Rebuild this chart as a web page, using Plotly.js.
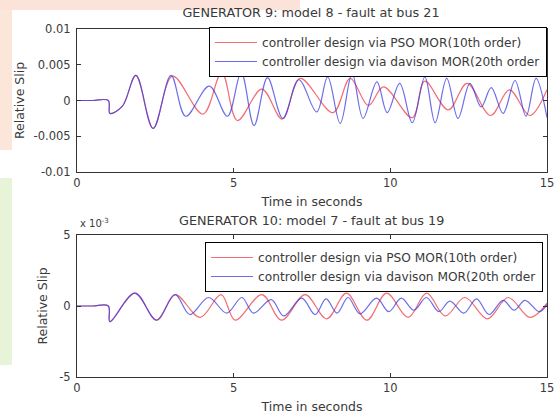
<!DOCTYPE html>
<html>
<head>
<meta charset="utf-8">
<script src="https://cdn.plot.ly/plotly-3.0.1.min.js"></script>
<style>html,body{margin:0;padding:0;background:#fff;}#chart{width:559px;height:414px;}</style>
</head>
<body>
<div id="chart"></div>
<script>
// ---- Data (time in s, relative slip) ----
// Generator 9 (top), extrema of each trace
var g9TimePSO = [0, 0.5, 1.0, 1.05, 1.45, 1.88, 2.43, 3.05, 4.02, 4.62, 5.12, 5.9, 6.55, 7.12, 8.17, 8.72, 9.3, 9.78, 10.7, 11.1, 11.85, 12.45, 13.2, 13.8, 14.45, 15.0];
var g9SlipPSO = [0, 0, 0, -0.0018, -0.0008, 0.0035, -0.0039, 0.0034, -0.0019, 0.0039, -0.0028, 0.0016, -0.0026, 0.0031, -0.0017, 0.0031, -0.0007, 0.0019, -0.0024, 0.0027, -0.0013, 0.0024, -0.0021, 0.0015, -0.0021, 0.0015];
var g9TimeDav = [0, 0.5, 1.0, 1.05, 1.45, 1.88, 2.43, 3.0, 3.47, 4.22, 4.8, 5.24, 5.65, 6.08, 6.57, 7.08, 7.65, 8.0, 8.4, 8.78, 9.13, 9.57, 9.9, 10.3, 10.7, 11.1, 11.43, 11.8, 12.16, 12.54, 12.9, 13.22, 13.6, 13.98, 14.33, 14.65, 15.0];
var g9SlipDav = [0, 0, 0, -0.0018, -0.0008, 0.0035, -0.0039, 0.0035, -0.0022, 0.0020, -0.0022, 0.0039, -0.0035, 0.0032, -0.0025, 0.0029, -0.0016, 0.0033, -0.0032, 0.0038, -0.0025, 0.0026, -0.0017, 0.0024, -0.0031, 0.0033, -0.0031, 0.0031, -0.0025, 0.0024, -0.0009, 0.0018, -0.0018, 0.0028, -0.0022, 0.0031, -0.0024];
// Generator 10 (bottom), slip in units of 1e-3
var g10TimePSO = [0, 0.5, 1.0, 1.05, 1.85, 2.54, 3.13, 3.93, 4.6, 5.05, 5.9, 6.53, 7.28, 7.97, 8.6, 9.25, 9.88, 10.57, 11.16, 11.75, 12.38, 13.1, 13.76, 14.46, 15.0];
var g10SlipPSO = [0, 0, 0, -1.1, 0.9, -1.0, 0.8, -0.8, 0.8, -1.0, 0.8, -1.0, 0.8, -0.9, 0.9, -1.0, 0.9, -0.8, 0.9, -0.7, 0.6, -0.9, 0.6, -0.8, 0.2];
var g10TimeDav = [0, 0.5, 1.0, 1.05, 1.85, 2.54, 3.13, 3.6, 4.2, 4.78, 5.26, 5.63, 6.2, 6.6, 7.17, 7.6, 7.95, 8.3, 8.65, 9.03, 9.56, 9.95, 10.35, 10.75, 11.15, 11.55, 11.9, 12.35, 12.75, 13.15, 13.6, 13.95, 14.3, 14.75, 15.0];
var g10SlipDav = [0, 0, 0, -1.1, 0.9, -1.0, 0.8, -0.6, 0.6, -0.5, 0.6, -0.5, 0.45, -0.7, 0.55, -0.6, 0.5, -0.5, 0.6, -0.55, 0.55, -0.4, 0.55, -0.3, 0.6, -0.4, 0.35, -0.5, 0.5, -0.6, 0.4, -0.3, 0.4, -0.4, 0.1];

var seriesNames = ['controller design via PSO MOR(10th order)', 'controller design via davison MOR(20th order'];
var xTicks = [0, 5, 10, 15];
var yTicksTop = [-0.01, -0.005, 0, 0.005, 0.01];
var yTickTextTop = ['-0.01', '-0.005', '0', '0.005', '0.01'];
var yTicksBot = [-5, 0, 5];
var yTickTextBot = ['-5', '0', '5'];

var RED = 'rgba(238,60,70,0.75)';
var BLUE = 'rgba(60,60,225,0.75)';

var traces = [
  {x: g9TimePSO, y: g9SlipPSO, name: seriesNames[0], xaxis: 'x', yaxis: 'y', legend: 'legend', mode: 'lines', line: {color: RED, width: 1.2, shape: 'spline', smoothing: 1}},
  {x: g9TimeDav, y: g9SlipDav, name: seriesNames[1], xaxis: 'x', yaxis: 'y', legend: 'legend', mode: 'lines', line: {color: BLUE, width: 1.2, shape: 'spline', smoothing: 1}},
  {x: g10TimePSO, y: g10SlipPSO, name: seriesNames[0], xaxis: 'x2', yaxis: 'y2', legend: 'legend2', mode: 'lines', line: {color: RED, width: 1.2, shape: 'spline', smoothing: 1}},
  {x: g10TimeDav, y: g10SlipDav, name: seriesNames[1], xaxis: 'x2', yaxis: 'y2', legend: 'legend2', mode: 'lines', line: {color: BLUE, width: 1.2, shape: 'spline', smoothing: 1}}
];

var FONT = 'DejaVu Sans, Arial, sans-serif';
var TXT = '#3a3a3a';
function xAx(anchor) {
  return {anchor: anchor, domain: [0, 1], range: [0, 15], tickvals: xTicks, ticktext: xTicks.map(String),
    ticks: 'inside', ticklen: 4, tickcolor: '#333', mirror: 'ticks', showline: true, linecolor: '#333', linewidth: 1,
    showgrid: false, zeroline: false, tickfont: {family: FONT, size: 11.5, color: TXT},
    title: {text: 'Time in seconds', font: {family: FONT, size: 12.5, color: TXT}, standoff: 8}};
}
function yAx(anchor, dom, vals, txt, rng, stand) {
  return {anchor: anchor, domain: dom, range: rng, tickvals: vals, ticktext: txt,
    ticks: 'inside', ticklen: 4, tickcolor: '#333', mirror: 'ticks', showline: true, linecolor: '#333', linewidth: 1,
    showgrid: false, zeroline: false, tickfont: {family: FONT, size: 11.5, color: TXT}, ticklabelstandoff: 3,
    title: {text: 'Relative Slip', font: {family: FONT, size: 12.5, color: TXT}, standoff: stand}};
}
function px2x(p) { return (p - 77) / 470; }
function px2y(p) { return (377 - p) / 348; }

var layout = {
  width: 559, height: 414,
  margin: {l: 77, r: 12, t: 29, b: 37},
  paper_bgcolor: '#ffffff', plot_bgcolor: '#ffffff',
  showlegend: true,
  font: {family: FONT, color: TXT},
  title: {text: 'GENERATOR 9: model 8 - fault at bus 21', font: {family: FONT, size: 12.8, color: TXT},
    x: 311 / 559, xanchor: 'center', y: 1 - 13 / 414, yanchor: 'middle', xref: 'container', yref: 'container'},
  xaxis: xAx('y'),
  yaxis: yAx('x', [px2y(172), 1], yTicksTop, yTickTextTop, [-0.01, 0.01], 6),
  xaxis2: xAx('y2'),
  yaxis2: yAx('x2', [0, px2y(235)], yTicksBot, yTickTextBot, [-5, 5], 8),
  legend: {x: 1, xanchor: 'right', y: px2y(27), yanchor: 'top', bgcolor: '#ffffff', bordercolor: '#000', borderwidth: 1,
    font: {family: FONT, size: 12.2, color: TXT}, tracegroupgap: 0, itemwidth: 42},
  legend2: {x: px2x(543), xanchor: 'right', y: px2y(242), yanchor: 'top', bgcolor: '#ffffff', bordercolor: '#000', borderwidth: 1,
    font: {family: FONT, size: 12.2, color: TXT}, tracegroupgap: 0, itemwidth: 42},
  annotations: [
    {text: 'GENERATOR 10: model 7 - fault at bus 19', xref: 'paper', yref: 'paper', x: px2x(311), y: px2y(220),
      xanchor: 'center', yanchor: 'middle', showarrow: false, font: {family: FONT, size: 12.8, color: TXT}},
    {text: 'x 10<sup>-3</sup>', xref: 'paper', yref: 'paper', x: px2x(78), y: px2y(223),
      xanchor: 'left', yanchor: 'middle', showarrow: false, font: {family: FONT, size: 10, color: TXT}}
  ],
  shapes: [
    {type: 'rect', xref: 'paper', yref: 'paper', x0: px2x(0), x1: px2x(300), y0: px2y(10), y1: px2y(0), fillcolor: 'rgba(250,218,205,0.75)', line: {width: 0}, layer: 'below'},
    {type: 'rect', xref: 'paper', yref: 'paper', x0: px2x(0), x1: px2x(12), y0: px2y(150), y1: px2y(10), fillcolor: 'rgba(251,226,212,0.85)', line: {width: 0}, layer: 'below'},
    {type: 'rect', xref: 'paper', yref: 'paper', x0: px2x(0), x1: px2x(12), y0: px2y(365), y1: px2y(178), fillcolor: 'rgba(228,243,212,0.9)', line: {width: 0}, layer: 'below'}
  ]
};

Plotly.newPlot('chart', traces, layout, {displayModeBar: false, staticPlot: true});
</script>
</body>
</html>
